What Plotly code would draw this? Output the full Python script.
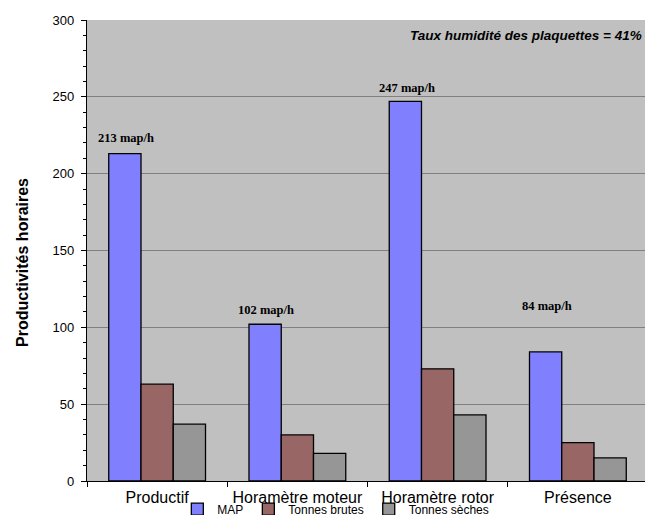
import plotly.graph_objects as go

categories = ["Productif", "Horamètre moteur", "Horamètre rotor", "Présence"]
map_vals = [213, 102, 247, 84]
brutes_vals = [63, 30, 73, 25]
seches_vals = [37, 18, 43, 15]
label_texts = ["213 map/h", "102 map/h", "247 map/h", "84 map/h"]
label_y = [223, 111, 256, 114]

fig = go.Figure()
line = dict(color="black", width=1.3)
fig.add_trace(go.Bar(name="MAP", x=categories, y=map_vals, marker=dict(color="#8080FF", line=line)))
fig.add_trace(go.Bar(name="Tonnes brutes", x=categories, y=brutes_vals, marker=dict(color="#996666", line=line)))
fig.add_trace(go.Bar(name="Tonnes sèches", x=categories, y=seches_vals, marker=dict(color="#969696", line=line)))

for c, t, yv in zip(categories, label_texts, label_y):
    fig.add_annotation(x=c, y=yv, text=t, showarrow=False, xshift=-31, yanchor="middle",
                       font=dict(family="Liberation Serif", size=12.5, color="black", weight="bold"))

fig.add_annotation(xref="paper", yref="paper", x=0.993, y=0.967, xanchor="right", yanchor="middle",
                   text="<b><i>Taux humidité des plaquettes = 41%</i></b>", showarrow=False,
                   font=dict(family="Liberation Sans", size=13.5, color="black"))

fig.add_annotation(xref="paper", yref="paper", x=-0.116, y=0.475, xanchor="center", yanchor="middle",
                   text="<b>Productivités horaires</b>", textangle=-90, showarrow=False,
                   font=dict(family="Liberation Sans", size=16, color="black"))

# figure is placed 8px in from the page edge by the default body margin
fig.update_layout(
    width=645, height=525,
    margin=dict(l=79, r=5, t=12, b=52),
    plot_bgcolor="#C0C0C0", paper_bgcolor="white",
    barmode="group", bargap=0.31, bargroupgap=0,
    font=dict(family="Liberation Sans", color="black"),
    showlegend=True,
    legend=dict(orientation="h", x=0.161, y=-0.061, xanchor="left", yanchor="middle",
                font=dict(size=12), itemwidth=30, bgcolor="rgba(0,0,0,0)",
                tracegroupgap=0),
)
fig.update_xaxes(showline=True, linecolor="black", linewidth=1.3, ticks="outside", tickson="boundaries",
                 ticklen=5, tickcolor="black", tickfont=dict(size=16), showgrid=False,
                 ticklabelstandoff=2)
fig.update_yaxes(range=[0, 300], dtick=50, showline=True, linecolor="black", linewidth=1.3,
                 ticks="outside", ticklen=5, tickcolor="black", tickfont=dict(size=13),
                 ticklabelstandoff=4,
                 gridcolor="#808080", gridwidth=1, zeroline=False,
                 minor=dict(dtick=10, ticks="outside", ticklen=3, tickcolor="black", showgrid=False))

fig.write_html("out.html", post_script="document.body.style.overflow='hidden';")
